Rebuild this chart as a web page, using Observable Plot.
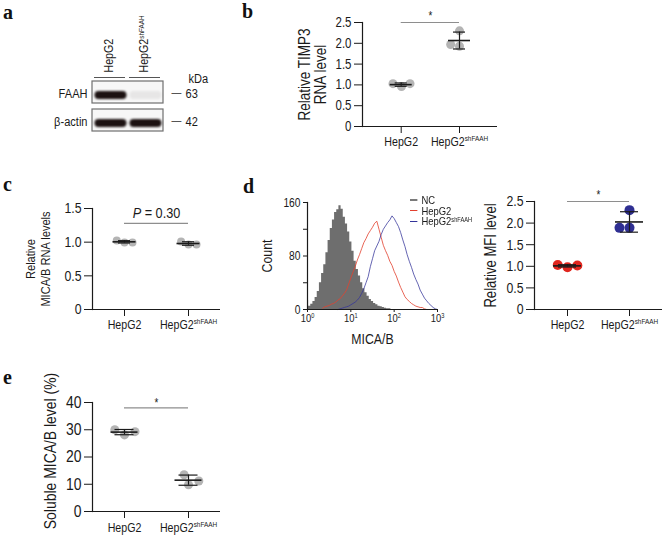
<!DOCTYPE html>
<html><head><meta charset="utf-8">
<script src="https://cdn.jsdelivr.net/npm/d3@7"></script>
<script src="https://cdn.jsdelivr.net/npm/@observablehq/plot@0.6"></script>
<style>
body{margin:0;background:#fff;}
#fig{position:relative;width:669px;height:537px;overflow:hidden;background:#fff;color:#1a1a1a;font-family:"Liberation Sans",Arial,sans-serif;}
.lbl{position:absolute;font-family:"Liberation Serif","Times New Roman",serif;font-weight:bold;font-size:20px;line-height:22px;color:#111;}
.leg{position:absolute;font-size:11.5px;line-height:10.7px;color:#1a1a1a;transform:scaleX(0.82);transform-origin:0 0;}
.leg div{white-space:nowrap;}
.leg span.d{display:inline-block;width:9px;height:1.4px;vertical-align:middle;margin-right:5px;margin-top:-2px;}
.leg sup{font-size:0.6em;vertical-align:0.45em;line-height:0;}
</style></head><body><div id="fig"></div>
<script>
// ---------------- data ----------------
const groups = ["HepG2", "HepG2shFAAH"];

// a: western blot
const blotProteins = ["FAAH", "β-actin"];
const blotKDa = [63, 42];
const faahBand = [1.0, 0.07];
const actinBand = [1.0, 1.0];

// b: TIMP3 RNA
const timp3HepG2 = [0.96, 1.03, 1.03];
const timp3Sh = [1.93, 1.97, 2.30];

// c: MICA/B RNA
const micaHepG2 = [0.995, 1.025, 0.995];
const micaSh = [0.965, 1.01, 0.965];

// d: flow cytometry histogram (log10 of MICA/B intensity, counts)
const facsExp = [0,0.05,0.1,0.15,0.2,0.25,0.3,0.35,0.4,0.45,0.5,0.55,0.6,0.65,0.7,0.75,0.8,0.85,0.9,0.95,1,1.05,1.1,1.15,1.2,1.25,1.3,1.35,1.4,1.45,1.5,1.55,1.6,1.65,1.7,1.75,1.8,1.85,1.9,1.95,2,2.05,2.1,2.15,2.2,2.25,2.3,2.35,2.4,2.45,2.5,2.55,2.6,2.65,2.7,2.75,2.8,2.85,2.9,2.95,3];
const ncCounts = [14,5,8,12,18,27,40,54,67,85,103,121,134,145,149,155,150,138,128,116,101,87,72,60,50,40,31,25,20,15,12,9,7,5,4,3,2,1,1,0,0,0,0,0,0,0,0,0,0,0,0,0,0,0,0,0,0,0,0,0,0];
const hepCounts = [null,null,null,null,null,null,null,2,4,5,6,8,9,11,14,16,20,24,29,38,47,56,64,74,82,91,100,106,113,118,123,129,132,120,108,96,88,81,72,66,57,50,41,33,26,19,15,12,9,7,5,4,3,3,1,0,null,null,null,null,null];
const shCounts = [null,null,null,null,null,null,null,null,null,null,null,null,null,null,0,1,2,3,4,5,7,9,11,14,18,24,31,40,49,64,76,88,95,102,112,120,125,130,134,140,136,130,124,115,104,94,82,72,63,53,45,38,29,23,17,13,9,6,3,1,0];
const facsSeries = ["NC", "HepG2", "HepG2shFAAH"];
const facsColors = ["#7a7a7a", "#e2412f", "#34349a"];

// d: relative MFI
const mfiHepG2 = [0.98, 1.03, 1.02];
const mfiSh = [1.89, 1.89, 2.30];

// e: soluble MICA/B (%)
const solHepG2 = [28.1, 30.0, 29.3];
const solSh = [9.8, 13.5, 11.2];

// ---------------- helpers ----------------
const FONT = '"Liberation Sans",Arial,sans-serif';
const NARROW = 0.82;
const INK = "#1a1a1a";
const fig = document.getElementById("fig");
const NS = "http://www.w3.org/2000/svg";
const disp = g => g === "HepG2shFAAH" ? "HepG2^shFAAH" : g;

function place(el, left, top) {
  el.style.position = "absolute";
  el.style.left = left + "px";
  el.style.top = top + "px";
  fig.appendChild(el);
  return el;
}
// superscripts, italic P, and a condensed (Arial Narrow-like) text width
function finish(svg) {
  svg.querySelectorAll("text").forEach(t => {
    if (!t.querySelector("tspan")) {
      const s = t.textContent;
      if (s.includes("^")) {
        const [a, b] = s.split("^");
        t.textContent = "";
        const t1 = document.createElementNS(NS, "tspan"); t1.textContent = a;
        const t2 = document.createElementNS(NS, "tspan");
        t2.setAttribute("font-size", "0.6em"); t2.setAttribute("dy", "-0.55em"); t2.textContent = b;
        t.append(t1, t2);
      } else if (s.startsWith("P = ")) {
        t.textContent = "";
        const t1 = document.createElementNS(NS, "tspan"); t1.textContent = "P";
        t1.setAttribute("font-style", "italic");
        const t2 = document.createElementNS(NS, "tspan"); t2.textContent = s.slice(1);
        t.append(t1, t2);
      }
    }
    const x = +(t.getAttribute("x") || 0);
    if (x) t.setAttribute("x", x / NARROW);
    const tr = t.getAttribute("transform") || "";
    t.setAttribute("transform", (tr + ` scale(${NARROW},1)`).trim());
  });
  return svg;
}
function letter(ch, left, top) {
  const d = document.createElement("div");
  d.className = "lbl"; d.textContent = ch;
  d.style.left = left + "px"; d.style.top = top + "px";
  fig.appendChild(d);
}

function dotPanel(o) {
  const x0 = o.c0 - o.left, x1 = o.c1 - o.left, step = x1 - x0;
  const sets = [o.a, o.b];
  const points = [];
  sets.forEach((vals, i) => vals.forEach(v => points.push({group: groups[i], value: v, color: o.colors[i]})));
  const stats = sets.map((v, i) => {
    const m = d3.mean(v), s = d3.deviation(v);
    return {i, mean: m, lo: m - s, hi: m + s};
  });
  const common = {
    width: o.W, height: o.H,
    marginLeft: o.mL, marginRight: o.mR, marginTop: o.mT, marginBottom: o.mB,
    style: {background: "transparent", fontFamily: FONT, color: INK, overflow: "visible"}
  };
  const dots = Plot.plot({
    ...common,
    fx: {domain: groups, range: [x0 - step / 2, x1 + step / 2], padding: 0, axis: null, label: null},
    y: {domain: o.yDomain, axis: null},
    color: {type: "identity"},
    marks: [
      Plot.dot(points, Plot.dodgeX({anchor: "middle", padding: o.pad}, {fx: "group", y: "value", r: o.r, fill: "color", stroke: "none"}))
    ]
  });
  const base = Plot.plot({
    ...common,
    x: {domain: [0, 1], range: [x0, x1]},
    y: {domain: o.yDomain},
    marks: [
      Plot.ruleY([o.yDomain[0]], {stroke: INK, strokeWidth: 1.2}),
      Plot.frame({anchor: "left", stroke: INK, strokeWidth: 1.2}),
      Plot.axisY({ticks: o.yTicks, tickFormat: o.yFmt, tickSize: 8, tickPadding: 3, fontSize: o.tickFont, label: null}),
      Plot.axisX({ticks: [0, 1], tickFormat: i => disp(groups[i]), tickSize: 7, tickPadding: o.catPad, fontSize: o.catFont, label: null}),
      Plot.text([o.yLabel], {text: d => d, frameAnchor: "left", textAnchor: "middle", lineAnchor: "middle", dx: o.labelDx, dy: o.labelDy || 0, rotate: -90, fontSize: o.labelFont, lineHeight: o.lineHeight, fill: INK}),
      Plot.ruleX(stats, {x: "i", y1: "lo", y2: "hi", stroke: INK, strokeWidth: 1.2}),
      Plot.ruleY(stats, {x1: "i", x2: "i", y: "mean", insetLeft: -o.meanHalf, insetRight: -o.meanHalf, stroke: INK, strokeWidth: 1.6}),
      Plot.ruleY(stats, {x1: "i", x2: "i", y: "lo", insetLeft: -o.capHalf, insetRight: -o.capHalf, stroke: INK, strokeWidth: 1.2}),
      Plot.ruleY(stats, {x1: "i", x2: "i", y: "hi", insetLeft: -o.capHalf, insetRight: -o.capHalf, stroke: INK, strokeWidth: 1.2}),
      Plot.ruleY([o.sig], {x1: 0, x2: 1, y: "y", stroke: "#8e8e8e", strokeWidth: 1.2}),
      Plot.text([o.sig], {x: 0.5, y: "y", text: "label", dy: o.sigDy, lineAnchor: "middle", fontSize: o.sigFont, fill: INK})
    ]
  });
  place(dots, o.left, o.top);
  place(finish(base), o.left, o.top);
}

// ---------------- panel a ----------------
const bands = [];
groups.forEach((g, i) => {
  bands.push({lane: g, protein: blotProteins[0], intensity: faahBand[i]});
  bands.push({lane: g, protein: blotProteins[1], intensity: actinBand[i]});
});
const kda = blotProteins.map((p, i) => ({protein: p, kda: blotKDa[i]}));
const panelA = Plot.plot({
  width: 230, height: 145, marginLeft: 92, marginRight: 67, marginTop: 81, marginBottom: 14,
  style: {background: "transparent", fontFamily: FONT, color: INK, overflow: "visible"},
  x: {type: "band", domain: groups, padding: 0, axis: null},
  y: {type: "band", domain: blotProteins, paddingInner: 0.22, paddingOuter: 0, axis: null},
  opacity: {domain: [0, 1], range: [0, 1]},
  marks: [
    Plot.cell(blotProteins, {y: d => d, fill: "#f7f7f7", stroke: "#6f6f6f", strokeWidth: 1.2}),
    Plot.cell(bands, {x: "lane", y: "protein", fill: "#1c1212", fillOpacity: "intensity",
      insetTop: 10, insetBottom: 4, insetLeft: 1.5, insetRight: 1.5, rx: 4, imageFilter: "blur(0.9px)"}),
    Plot.text(blotProteins, {y: d => d, text: d => d, frameAnchor: "left", textAnchor: "end", dx: -5, dy: 1, fontSize: 13.5, fill: INK}),
    Plot.text(kda, {y: "protein", text: () => "—", frameAnchor: "right", textAnchor: "start", dx: 8, dy: 1, fontSize: 12, fill: "#555"}),
    Plot.text(kda, {y: "protein", text: "kda", frameAnchor: "right", textAnchor: "start", dx: 22, dy: 1, fontSize: 13.5, fill: INK}),
    Plot.text(["kDa"], {text: d => d, frameAnchor: "top-right", textAnchor: "start", dx: 25, dy: -8, fontSize: 13.5, fill: INK}),
    Plot.text(groups, {x: d => d, text: d => disp(d), frameAnchor: "top", rotate: -90, textAnchor: "start", lineAnchor: "middle", dx: -2, dy: -9, fontSize: 13, fill: INK}),
    Plot.tickY(groups, {x: d => d, y: () => blotProteins[0], dy: -15, insetLeft: 1, insetRight: 3, stroke: "#555", strokeWidth: 1})
  ]
});
place(finish(panelA), 0, 0);

// ---------------- panel b ----------------
dotPanel({left: 290, top: 0, W: 215, H: 160, mL: 72, mR: 8, mT: 22, mB: 34, c0: 400.7, c1: 459,
  a: timp3HepG2, b: timp3Sh, colors: ["#b4b4b4", "#b4b4b4"], r: 4.5, pad: 0,
  yDomain: [0, 2.5], yTicks: [0, 0.5, 1, 1.5, 2, 2.5], yFmt: d => d === 0 ? "0" : d.toFixed(1),
  tickFont: 14, catFont: 13, catPad: 3,
  yLabel: "Relative TIMP3\nRNA level", labelFont: 16.5, labelDx: -49.5, lineHeight: 0.95,
  meanHalf: 11, capHalf: 6, sig: {y: 2.5, label: "*"}, sigDy: -6, sigFont: 12});

// ---------------- panel c ----------------
dotPanel({left: 0, top: 170, W: 230, H: 170, mL: 92, mR: 10, mT: 38, mB: 31, c0: 124, c1: 188,
  a: micaHepG2, b: micaSh, colors: ["#b4b4b4", "#b4b4b4"], r: 4, pad: 0,
  yDomain: [0, 1.5], yTicks: [0, 0.5, 1, 1.5], yFmt: d => d === 0 ? "0" : d.toFixed(1),
  tickFont: 15, catFont: 13, catPad: 3,
  yLabel: "Relative\nMICA/B RNA levels", labelFont: 13.5, labelDx: -54.5, lineHeight: 1.1,
  meanHalf: 11.5, capHalf: 6, sig: {y: 1.28, label: "P = 0.30"}, sigDy: -10, sigFont: 15.5});

// ---------------- panel d: histogram ----------------
const toRows = counts => facsExp.map((e, i) => ({v: Math.pow(10, e), c: counts[i]}));
const ncRows = toRows(ncCounts), hepRows = toRows(hepCounts), shRows = toRows(shCounts);
const hist = Plot.plot({
  width: 220, height: 180, marginLeft: 67, marginRight: 23, marginTop: 32, marginBottom: 41,
  style: {background: "transparent", fontFamily: FONT, color: INK, overflow: "visible"},
  x: {type: "log", domain: [1, 1000]},
  y: {domain: [0, 160]},
  marks: [
    Plot.areaY(ncRows, {x: "v", y: "c", fill: "#6e6e6e", curve: "step"}),
    Plot.lineY(hepRows, {x: "v", y: "c", stroke: facsColors[1], strokeWidth: 0.9, strokeOpacity: 0.9}),
    Plot.lineY(shRows, {x: "v", y: "c", stroke: facsColors[2], strokeWidth: 0.9, strokeOpacity: 0.85}),
    Plot.ruleY([0], {stroke: INK, strokeWidth: 1.2}),
    Plot.frame({anchor: "left", stroke: INK, strokeWidth: 1.2}),
    Plot.axisY({ticks: [0, 40, 80, 120, 160], tickFormat: d => d % 80 === 0 ? String(d) : "", tickSize: 4, tickPadding: 3, fontSize: 12.5, label: null}),
    Plot.axisX({ticks: [1, 10, 100, 1000], tickFormat: d => "10^" + Math.round(Math.log10(d)), tickSize: 3, tickPadding: 1, fontSize: 11.5, label: null}),
    Plot.text(["Count"], {text: d => d, frameAnchor: "left", textAnchor: "middle", lineAnchor: "middle", dx: -40, rotate: -90, fontSize: 15, fill: INK}),
    Plot.text(["MICA/B"], {text: d => d, frameAnchor: "bottom", textAnchor: "middle", dy: 24, lineAnchor: "top", fontSize: 15, fill: INK})
  ]
});
place(finish(hist), 240, 170);

const leg = document.createElement("div");
leg.className = "leg";
leg.innerHTML = facsSeries.map((s, i) =>
  `<div><span class="d" style="background:${facsColors[i]}"></span>${s === "HepG2shFAAH" ? "HepG2<sup>shFAAH</sup>" : s}</div>`).join("");
place(leg, 410, 195);

// ---------------- panel d: MFI ----------------
dotPanel({left: 460, top: 170, W: 209, H: 170, mL: 74, mR: 7, mT: 31, mB: 31, c0: 567, c1: 629,
  a: mfiHepG2, b: mfiSh, colors: ["#e0261e", "#2f2f92"], r: 5, pad: 0,
  yDomain: [0, 2.5], yTicks: [0, 0.5, 1, 1.5, 2, 2.5], yFmt: d => d === 0 ? "0" : d.toFixed(1),
  tickFont: 15, catFont: 13, catPad: 3,
  yLabel: "Relative MFI level", labelFont: 16, labelDx: -44, lineHeight: 1,
  meanHalf: 14, capHalf: 9, sig: {y: 2.5, label: "*"}, sigDy: -6, sigFont: 12});

// ---------------- panel e ----------------
dotPanel({left: 0, top: 370, W: 230, H: 167, mL: 92, mR: 10, mT: 32, mB: 26, c0: 124, c1: 188,
  a: solHepG2, b: solSh, colors: ["#b4b4b4", "#b4b4b4"], r: 4.5, pad: 2,
  yDomain: [0, 40], yTicks: [0, 10, 20, 30, 40], yFmt: d => String(d),
  tickFont: 17, catFont: 13, catPad: 4,
  yLabel: "Soluble MICA/B level (%)", labelFont: 17, labelDx: -42, labelDy: -6, lineHeight: 1,
  meanHalf: 13.5, capHalf: 9.5, sig: {y: 38, label: "*"}, sigDy: -5, sigFont: 12});

// ---------------- panel letters ----------------
letter("a", 3, 1);
letter("b", 242, 0);
letter("c", 3, 173);
letter("d", 243, 175);
letter("e", 3, 366);
</script></body></html>
